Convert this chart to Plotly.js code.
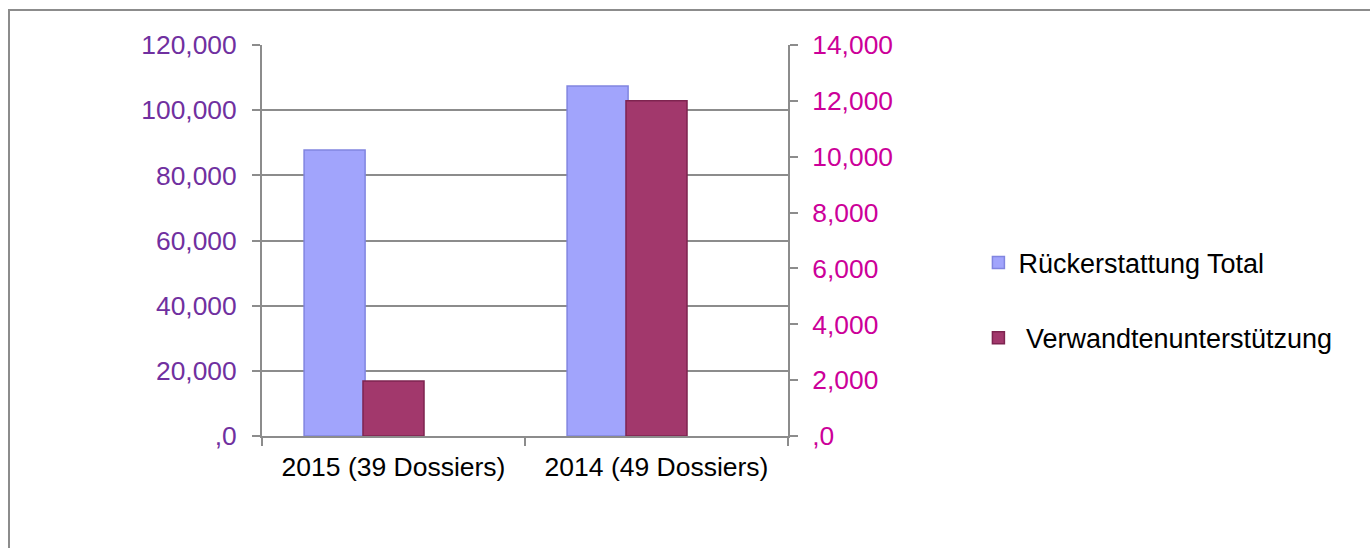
<!DOCTYPE html>
<html>
<head>
<meta charset="utf-8">
<script src="https://cdn.plot.ly/plotly-3.0.1.min.js"></script>
<style>
  html, body { margin: 0; padding: 0; background: #fff; overflow: hidden; }
  #frame { position: absolute; left: 8px; top: 9px; width: 1400px; height: 600px;
           border: 2px solid #8c8c8c; box-sizing: border-box; pointer-events: none; z-index: 5; }
  #chart { position: absolute; left: 0; top: 0; width: 1370px; height: 548px; }
</style>
</head>
<body>
<div id="chart"></div>
<div id="frame"></div>
<script>
const categories = ["2015 (39 Dossiers)", "2014 (49 Dossiers)"];
const rueckerstattung = [87800, 107400];
const verwandten = [1970, 12000];

const leftTicks = [0, 20000, 40000, 60000, 80000, 100000, 120000];
const leftLabels = [",0", "20,000", "40,000", "60,000", "80,000", "100,000", "120,000"];
const rightTicks = [0, 2000, 4000, 6000, 8000, 10000, 12000, 14000];
const rightLabels = [",0", "2,000", "4,000", "6,000", "8,000", "10,000", "12,000", "14,000"];

const font = "Liberation Sans, Arial, sans-serif";

const traces = [
  {
    type: "bar",
    name: "Rückerstattung Total",
    x: categories,
    y: rueckerstattung,
    yaxis: "y",
    width: 0.232,
    offset: -0.34,
    marker: { color: "#a1a4fc", line: { color: "#8185e0", width: 1.5 } },
    legendgroup: "a",
    hoverinfo: "y",
  },
  {
    type: "bar",
    name: "\u00a0Verwandtenunterstützung",
    x: categories,
    y: verwandten,
    yaxis: "y2",
    width: 0.232,
    offset: -0.116,
    marker: { color: "#a2386c", line: { color: "#7e2450", width: 1.5 } },
    legendgroup: "b",
    hoverinfo: "y",
  },
];

const layout = {
  width: 1370,
  height: 548,
  margin: { l: 262, r: 582, t: 45, b: 112 },
  paper_bgcolor: "#ffffff",
  plot_bgcolor: "#ffffff",
  font: { family: font, size: 26, color: "#000000" },
  barmode: "overlay",
  xaxis: {
    type: "category",
    showline: true,
    linecolor: "#8c8c8c",
    linewidth: 2,
    ticks: "outside",
    tickson: "boundaries",
    ticklen: 8,
    tickwidth: 2,
    tickcolor: "#8c8c8c",
    showgrid: false,
    ticklabelstandoff: 6,
    tickfont: { size: 26.5, color: "#000000" },
  },
  yaxis: {
    range: [0, 120000],
    tickvals: leftTicks,
    ticktext: leftLabels,
    showline: true,
    linecolor: "#8c8c8c",
    linewidth: 2,
    ticks: "outside",
    ticklen: 8,
    tickwidth: 2,
    tickcolor: "#8c8c8c",
    showgrid: true,
    gridcolor: "#8c8c8c",
    gridwidth: 2,
    zeroline: false,
    ticklabelstandoff: 10,
    tickfont: { size: 26.4, color: "#7030a0" },
  },
  yaxis2: {
    overlaying: "y",
    side: "right",
    range: [0, 14000],
    tickvals: rightTicks,
    ticktext: rightLabels,
    showline: true,
    linecolor: "#8c8c8c",
    linewidth: 2,
    ticks: "outside",
    ticklen: 8,
    tickwidth: 2,
    tickcolor: "#8c8c8c",
    showgrid: false,
    zeroline: false,
    ticklabelstandoff: 9,
    tickfont: { size: 26.4, color: "#cc0099" },
  },
  showlegend: true,
  legend: {
    x: 1.362,
    xanchor: "left",
    y: 0.505,
    yanchor: "top",
    traceorder: "grouped",
    tracegroupgap: 37,
    font: { size: 27, color: "#000000" },
    bgcolor: "rgba(0,0,0,0)",
  },
};

Plotly.newPlot("chart", traces, layout, { displayModeBar: false, staticPlot: true });
</script>
</body>
</html>
